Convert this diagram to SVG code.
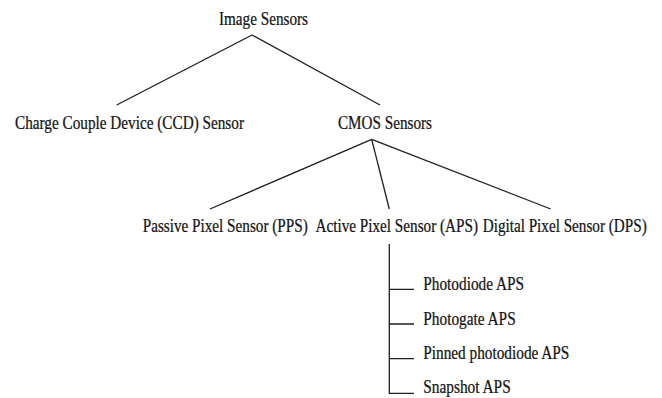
<svg xmlns="http://www.w3.org/2000/svg" width="662" height="398" viewBox="0 0 662 398">
<style>
text{font-family:"Liberation Serif","Times New Roman",serif;font-size:18px;fill:#141414;stroke:#141414;stroke-width:0.25}
.c line,.c path{stroke:#1e1e1e;stroke-width:1.3;fill:none}
</style>
<rect width="662" height="398" fill="#fff"/>
<g class="c" id="connectors">
<line x1="252" y1="35" x2="116.7" y2="105"/>
<line x1="252" y1="35" x2="380" y2="105"/>
<line x1="371.7" y1="139.3" x2="210" y2="209"/>
<line x1="371.7" y1="139.3" x2="389.3" y2="209"/>
<line x1="371.7" y1="139.3" x2="550.7" y2="209"/>
<path d="M389.3 244V393.3H414M389.3 289.3H414M389.3 324H414M389.3 358.7H414"/>
</g>
<g id="image-sensors" transform="translate(219 25) scale(0.845 1)"><text textLength="105.3" lengthAdjust="spacingAndGlyphs">Image Sensors</text></g>
<g id="ccd" transform="translate(15 128.5) scale(0.845 1)"><text textLength="271" lengthAdjust="spacingAndGlyphs">Charge Couple Device (CCD) Sensor</text></g>
<g id="cmos" transform="translate(338 128.5) scale(0.845 1)"><text textLength="111.2" lengthAdjust="spacingAndGlyphs">CMOS Sensors</text></g>
<g id="pps" transform="translate(142.7 231.5) scale(0.845 1)"><text textLength="195.3" lengthAdjust="spacingAndGlyphs">Passive Pixel Sensor (PPS)</text></g>
<g id="aps" transform="translate(315.5 231.5) scale(0.845 1)"><text textLength="192.3" lengthAdjust="spacingAndGlyphs">Active Pixel Sensor (APS)</text></g>
<g id="dps" transform="translate(482.7 231.5) scale(0.845 1)"><text textLength="194.1" lengthAdjust="spacingAndGlyphs">Digital Pixel Sensor (DPS)</text></g>
<g id="photodiode" transform="translate(423.3 290) scale(0.845 1)"><text textLength="119.2" lengthAdjust="spacingAndGlyphs">Photodiode APS</text></g>
<g id="photogate" transform="translate(423.3 324.7) scale(0.845 1)"><text textLength="109.3" lengthAdjust="spacingAndGlyphs">Photogate APS</text></g>
<g id="pinned" transform="translate(423.3 359.4) scale(0.845 1)"><text textLength="172.8" lengthAdjust="spacingAndGlyphs">Pinned photodiode APS</text></g>
<g id="snapshot" transform="translate(423.3 393) scale(0.845 1)"><text textLength="103.4" lengthAdjust="spacingAndGlyphs">Snapshot APS</text></g>
</svg>
